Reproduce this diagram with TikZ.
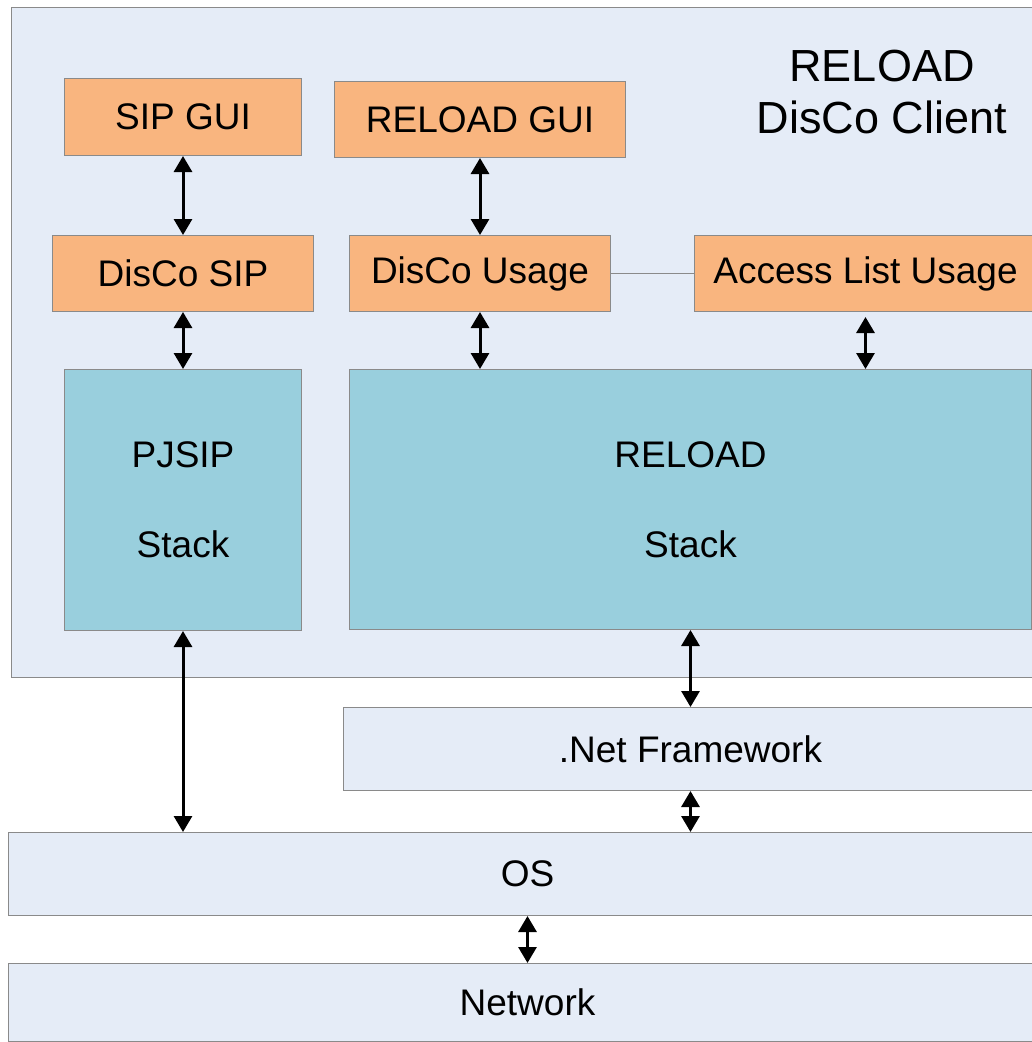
\documentclass[tikz,border=0pt]{standalone}
\usepackage{fontspec}
\setmainfont{Liberation Sans}
\usetikzlibrary{arrows.meta}
\definecolor{lightbg}{HTML}{E5ECF7}
\definecolor{orangebox}{HTML}{F9B57F}
\definecolor{tealbox}{HTML}{99CFDD}
\definecolor{bordergray}{HTML}{8A8A8A}
\tikzset{
  box/.style={draw=bordergray, line width=1pt, inner sep=0pt, anchor=north west,
    font=\fontsize{37}{44}\selectfont},
  orange/.style={box, fill=orangebox},
  teal/.style={box, fill=tealbox, align=center, font=\fontsize{37}{90}\selectfont},
  light/.style={box, fill=lightbg},
  biarrow/.style={line width=3pt, {Triangle[length=16pt,width=18pt]}-{Triangle[length=16pt,width=18pt]}},
  link/.style={draw=bordergray, line width=1pt}
}
\begin{document}
\begin{tikzpicture}[x=1pt,y=-1pt]
\useasboundingbox (0,0) rectangle (1032,1042);
\clip (0,0) rectangle (1032,1042);
\fill[white] (0,0) rectangle (1032,1042);
% client container
\node[light, minimum width=1030pt, minimum height=670pt] (client) at (11,7) {};
\node[font=\fontsize{45}{52}\selectfont, align=center, anchor=center] (title) at (882,92) {RELOAD\\DisCo Client};
% orange boxes
\node[orange, minimum width=237pt, minimum height=77pt] (sipgui) at (64,78) {SIP GUI};
\node[orange, minimum width=291pt, minimum height=76pt] (reloadgui) at (334,81) {RELOAD GUI};
\node[orange, minimum width=261pt, minimum height=76pt] (discosip) at (52,235) {DisCo SIP};
\node[orange, minimum width=261pt, minimum height=76pt] (discousage) at (349,235) {DisCo Usage};
\node[orange, minimum width=342pt, minimum height=76pt] (alu) at (694,235) {Access List Usage};
% stacks
\node[teal, minimum width=237pt, minimum height=261pt] (pjsip) at (64,369) {PJSIP\\Stack};
\node[teal, minimum width=682pt, minimum height=260pt] (reload) at (349,369) {RELOAD\\Stack};
% lower layers
\node[light, minimum width=694pt, minimum height=83pt] (net) at (343,707) {.Net Framework};
\node[light, minimum width=1038pt, minimum height=83pt] (os) at (8,832) {OS};
\node[light, minimum width=1038pt, minimum height=78pt] (network) at (8,963) {Network};
% connectors
\draw[link] (discousage.east) -- (alu.west);
\draw[biarrow] (sipgui.south) -- (discosip.north);
\draw[biarrow] (reloadgui.south) -- (discousage.north);
\draw[biarrow] (discosip.south) -- (pjsip.north);
\draw[biarrow] (discousage.south) -- (discousage.south |- reload.north);
\draw[biarrow, shorten <=5pt] (alu.south) -- (alu.south |- reload.north);
\draw[biarrow] (pjsip.south) -- (pjsip.south |- os.north);
\draw[biarrow] (reload.south) -- (net.north);
\draw[biarrow] (net.south) -- (net.south |- os.north);
\draw[biarrow] (os.south) -- (network.north);
\end{tikzpicture}
\end{document}
